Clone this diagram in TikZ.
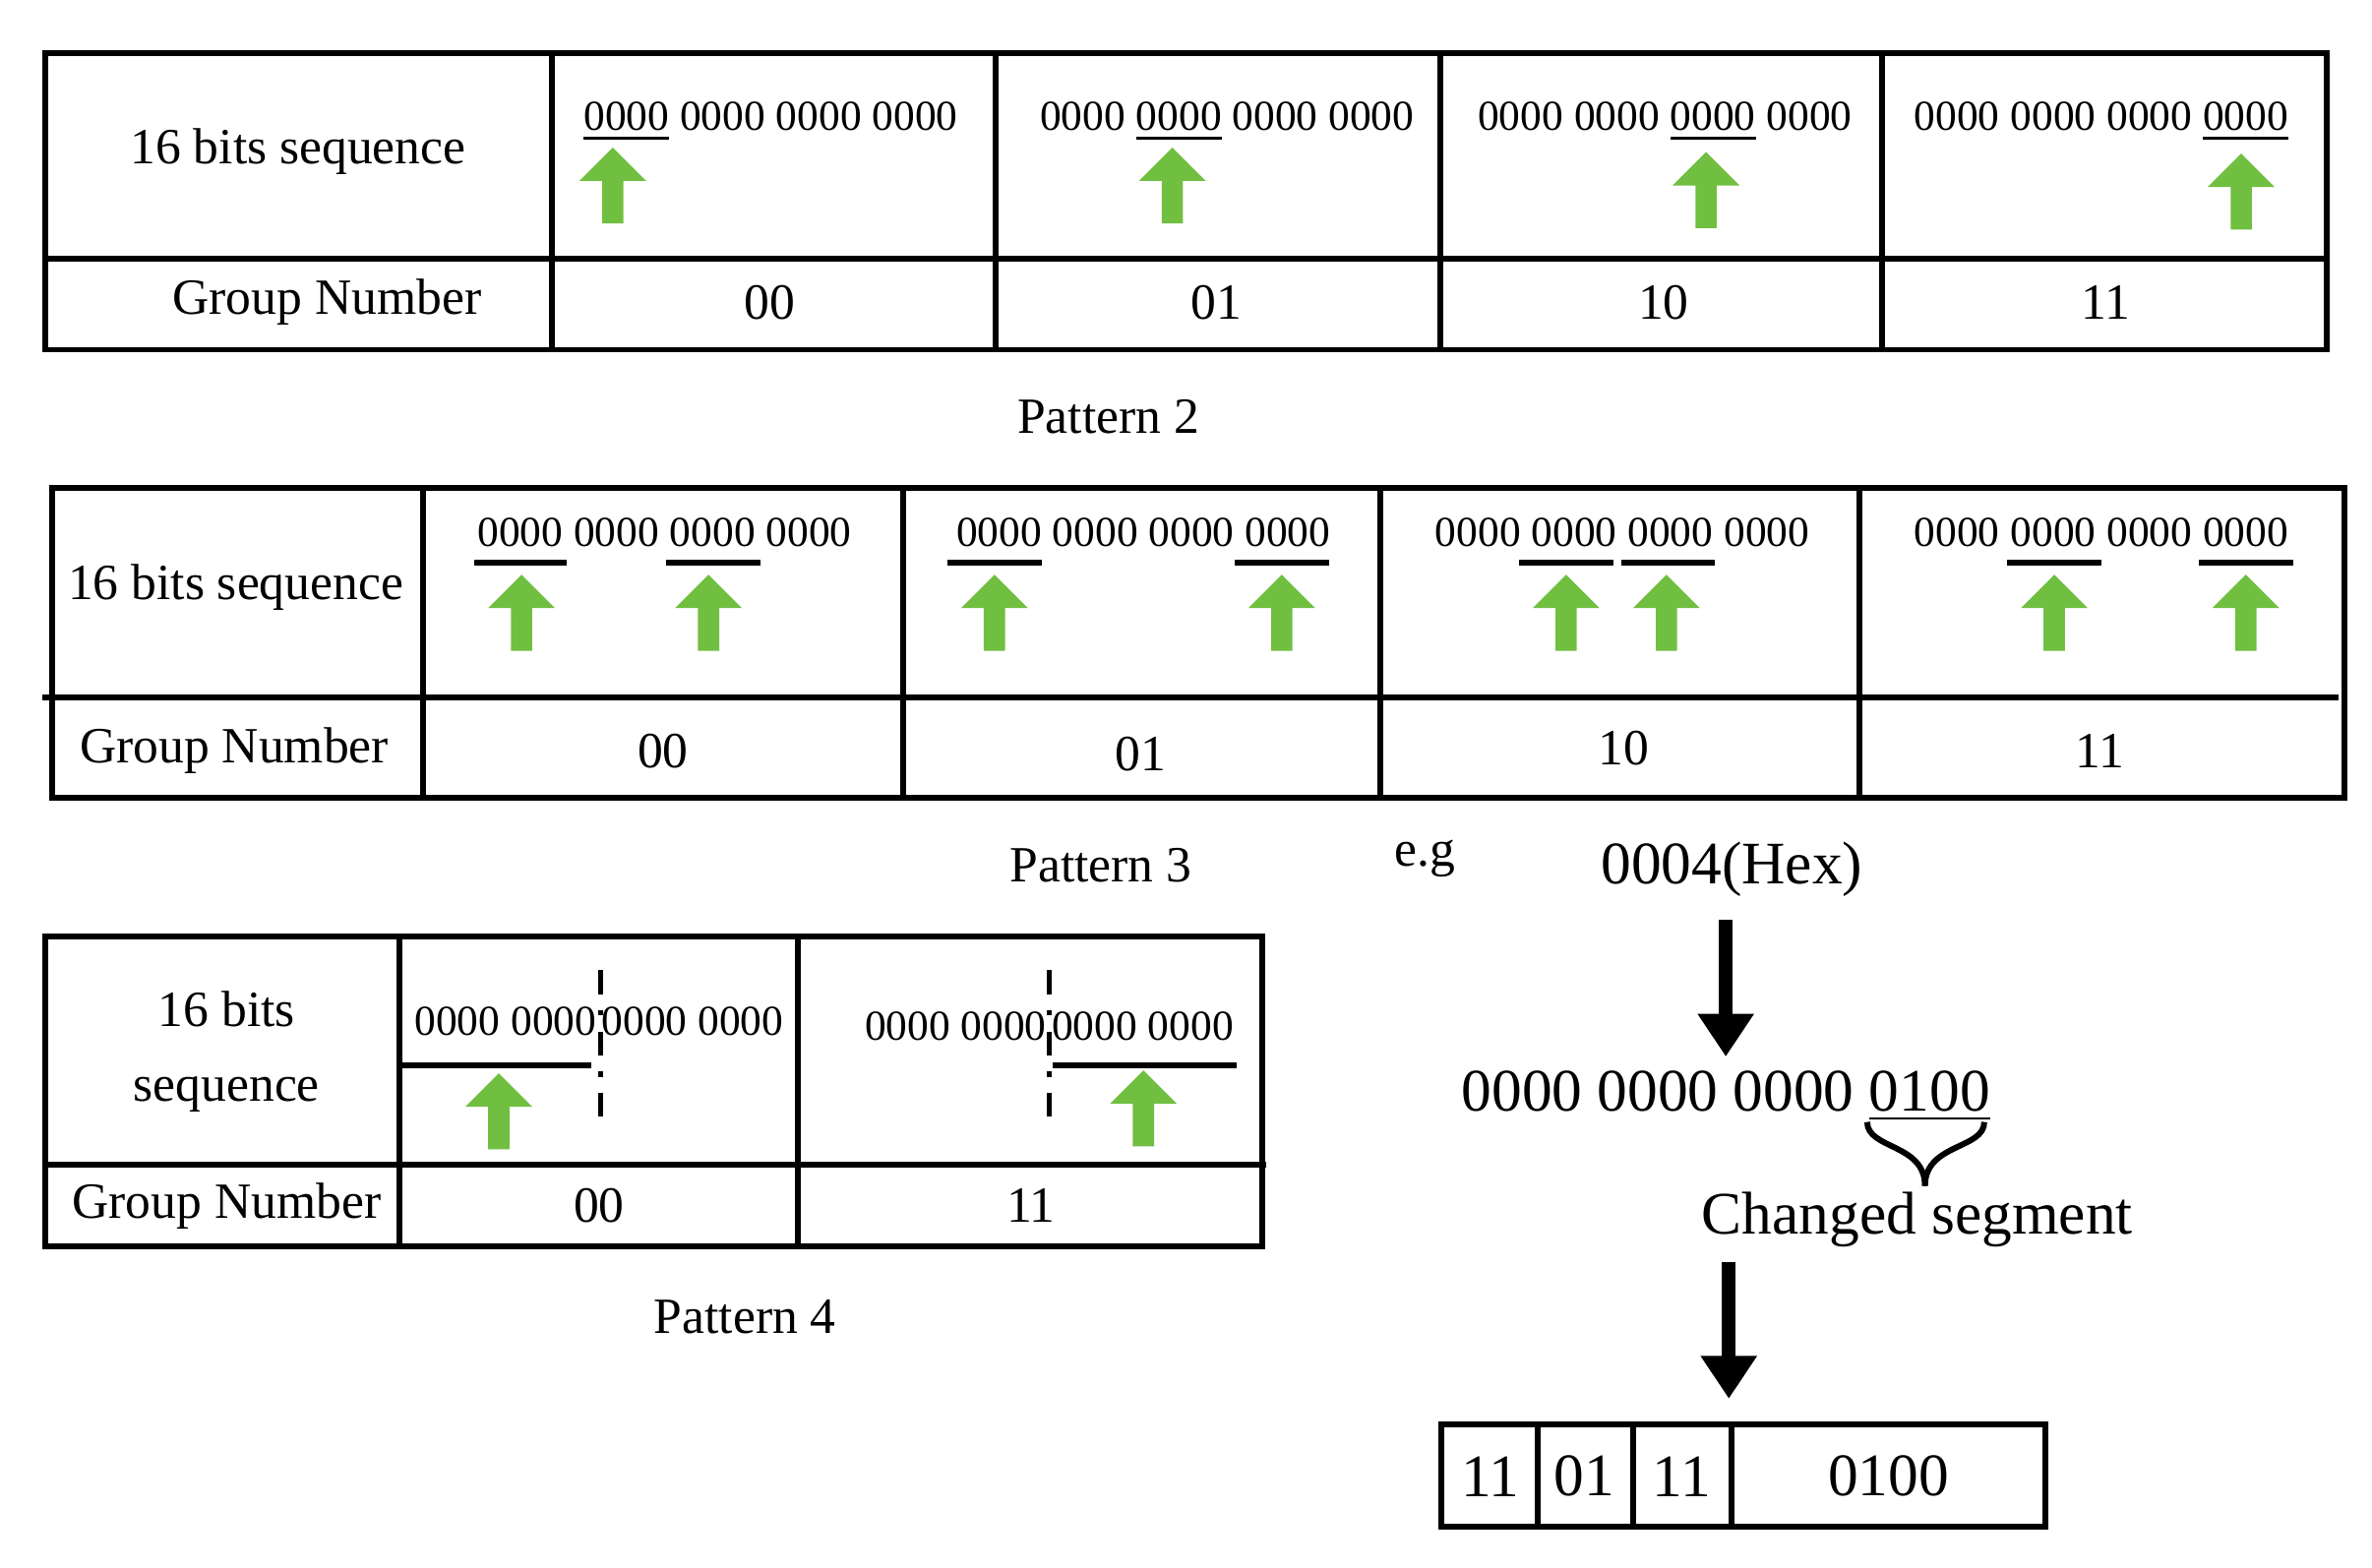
\documentclass[tikz,border=0pt]{standalone}
\usepackage{fontspec}
\setmainfont{Liberation Serif}
\usetikzlibrary{decorations.pathreplacing,arrows.meta}
\definecolor{garrow}{RGB}{112,191,65}
\tikzset{
  tbl/.style={line width=1.1pt},
  lbl/.style={font=\fontsize{9.5}{11}\selectfont, inner sep=0pt},
  bits/.style={font=\fontsize{8}{10}\selectfont, inner sep=0pt},
  big/.style={font=\fontsize{11.3}{13}\selectfont, inner sep=0pt},
  barline/.style={line width=1.1pt},
  dd/.style={line width=1pt,dash pattern=on 4.5pt off 3pt on 1pt off 3pt},
  down/.style={line width=2.5pt,-{Triangle[length=8pt,width=10pt]}},
}
\newcommand{\garr}[2]{% x, top y
  \fill[garrow] (#1-7,#2+50) -- (#1-7,#2+22) -- (#1-22,#2+22) -- (#1,#2) -- (#1+22,#2+22) -- (#1+7,#2+22) -- (#1+7,#2+50) -- cycle;}
\begin{document}
\begin{tikzpicture}[x=0.1mm,y=-0.1mm]
\useasboundingbox (0,0) rectangle (1560,1031);
% ---------- Pattern 1 table
\draw[tbl] (30,35) rectangle (1530,230);
\draw[tbl] (30,170) -- (1530,170);
\foreach \x in {363,655,947,1238} \draw[tbl] (\x,35) -- (\x,230);
\node[lbl] (t1a) at (196,100) {16 bits sequence};
\node[lbl] (t1b) at (215,199) {Group Number};
\node[bits] (b11) at (507,80) {\underline{0000} 0000 0000 0000};
\node[bits] (b12) at (807,80) {0000 \underline{0000} 0000 0000};
\node[bits] (b13) at (1095,80) {0000 0000 \underline{0000} 0000};
\node[bits] (b14) at (1382,80) {0000 0000 0000 \underline{0000}};
\garr{403}{97}\garr{771}{97}\garr{1122}{100}\garr{1474}{101}
\node[lbl] (g11) at (506,199) {00};
\node[lbl] (g12) at (800,199) {01};
\node[lbl] (g13) at (1094,199) {10};
\node[lbl] (g14) at (1385,199) {11};
\node[lbl] (p2) at (729,274) {Pattern 2};
% ---------- Pattern 2 table
\draw[tbl] (34,321) rectangle (1542,525);
\draw[tbl] (28,459) -- (1538,459);
\foreach \x in {278,594,908,1223} \draw[tbl] (\x,321) -- (\x,525);
\node[lbl] (t2a) at (155,386) {16 bits sequence};
\node[lbl] (t2b) at (154,494) {Group Number};
\node[bits] (b21) at (437,350) {0000 0000 0000 0000};
\node[bits] (b22) at (752,350) {0000 0000 0000 0000};
\node[bits] (b23) at (1067,350) {0000 0000 0000 0000};
\node[bits] (b24) at (1382,350) {0000 0000 0000 0000};
\foreach \a/\b in {312/373,438/500,623/685,812/874,999/1061,1066/1128,1320/1382,1446/1508}
  \draw[barline] (\a,370) -- (\b,370);
\foreach \x in {343,466,654,843,1030,1096,1351,1477} {\garr{\x}{378}}
\node[lbl] (g21) at (436,494) {00};
\node[lbl] (g22) at (750,496) {01};
\node[lbl] (g23) at (1068,492) {10};
\node[lbl] (g24) at (1381,494) {11};
\node[lbl] (p3) at (724,569) {Pattern 3};
\node[lbl] (eg) at (937,565) {e.g};
% ---------- Pattern 3 table
\draw[tbl] (30,616) rectangle (830,820);
\draw[tbl] (30,766) -- (833,766);
\foreach \x in {263,525} \draw[tbl] (\x,616) -- (\x,820);
\node[lbl,align=center] (t3a) at (149,692) {16 bits\\[3pt]sequence};
\node[lbl] (t3b) at (149,793) {Group Number};
\node[bits] (b31) at (394,672) {0000 0000\hspace{1pt}0000 0000};
\node[bits] (b32) at (690,675) {0000 0000\hspace{1pt}0000 0000};
\draw[dd] (395,638) -- (395,742);
\draw[dd] (690,638) -- (690,742);
\draw[barline] (264,701) -- (389,701);
\draw[barline] (692,701) -- (813,701);
\garr{328}{706}\garr{752}{704}
\node[lbl] (g31) at (394,793) {00};
\node[lbl] (g32) at (678,793) {11};
\node[lbl] (p4) at (490,866) {Pattern 4};
% ---------- example
\node[big] (hex) at (1139,572) {0004(Hex)};
\node[big] (bin) at (1135,721) {0000 0000 0000 \underline{0100}};
\node[big] (chg) at (1261,802) {Changed segment};
\draw[line width=1.1pt] (1228,738) .. controls (1228,756) and (1266,752) .. (1266,780);
\draw[line width=1.1pt] (1305,738) .. controls (1305,756) and (1266,752) .. (1266,780);
\draw[down] (1135,605) -- (1135,695);
\coordinate (c1) at (1137,830);
\coordinate (c2) at (1137,920);
\draw[down] (c1) -- (c2);
\draw[tbl] (948,937) rectangle (1345,1004);
\foreach \x in {1011,1074,1139} \draw[tbl] (\x,937) -- (\x,1004);
\node[big] (r1) at (980,971) {11};
\node[big] (r2) at (1042,971) {01};
\node[big] (r3) at (1106,971) {11};
\node[big] (r4) at (1242,971) {0100};
\end{tikzpicture}
\end{document}
